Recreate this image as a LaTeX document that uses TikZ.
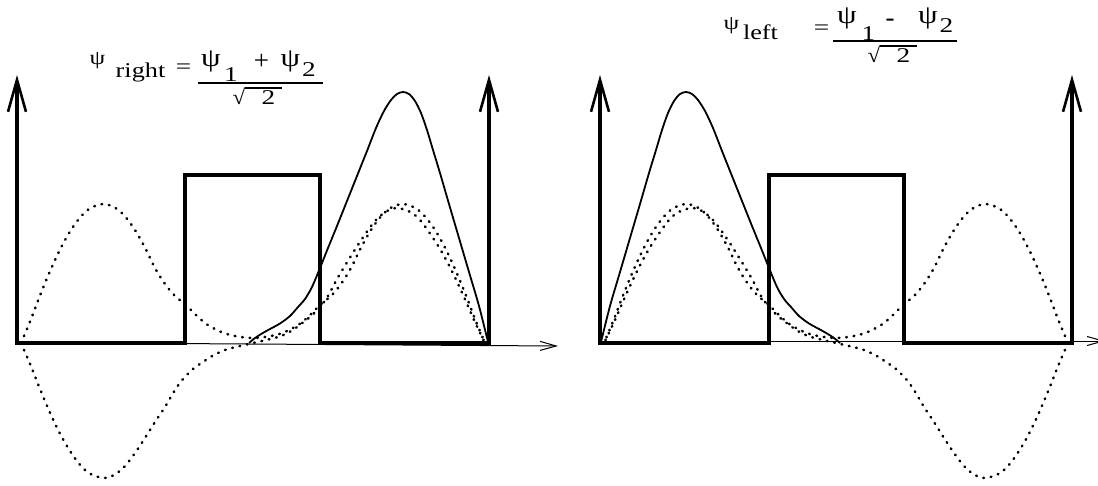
\documentclass[tikz,border=0pt]{standalone}
\usepackage{fontspec}
\usepackage{graphicx}
\setmainfont{Liberation Serif}
\usetikzlibrary{arrows.meta}
\newcommand\potpath{(17,75) -- (17,343) -- (185,343) -- (185,175) -- (320,175) -- (320,343) -- (489,343) -- (489,75)}
\newcommand\psiAcurve{plot[smooth,tension=0.55] coordinates {(21,343) (30,321.6) (40,295.5) (50,271.2) (60,249.6) (70,231.5) (80,217.6) (90,208.4) (103,204) (115,207.7) (125,216.4) (135,230) (145,247.6) (155,268) (165,284) (175,296) (185,304) (195,314) (205,323) (215,329) (225,333.5) (235,336) (245,337.5) (253,338) (261,337.5) (271,336) (281,333.5) (291,329) (301,323) (311,314) (321,304) (331,296) (341,284) (351,268) (361,247.6) (371,230) (381,216.4) (391,207.7) (403,204) (416,208.4) (426,217.6) (436,231.5) (446,249.6) (456,271.2) (466,295.5) (476,321.6) (485,343)}}
\newcommand\psiBcurve{plot[smooth,tension=0.55] coordinates {(21,343) (30,363.8) (40,389) (50,412.7) (60,433.7) (70,451) (80,464.8) (90,473.7) (104,478) (115,474.4) (125,466) (135,453) (145,438) (155,422) (165,407) (175,390) (183,379) (193,369) (203,362) (213,355.5) (225,350) (235,347.2) (245,344.8) (253,343) (261,341.2) (271,338.8) (281,336) (292,330.5) (301,324) (310,317) (320,307) (328,296) (337,279) (346,264) (356,248) (366,233) (376,220) (386,211.6) (397,208) (411,212.3) (421,221.2) (431,235) (442,252.3) (453,273.3) (464,297) (475,322.2) (485,343)}}
\newcommand\psiScurve{plot[smooth,tension=0.5] coordinates {(249,343) (255,338) (262,333.5) (270,329) (280,323.5) (290,316) (298,307) (305,299) (312,287) (320,268) (328,248) (337,226) (347,201) (357,176) (367,151) (376,128) (384,111) (391,100) (397,94) (403,92) (409,94) (415,101) (421,113) (427,130) (433,150) (440,173) (449,204) (459,238) (469,272) (479,306) (488,342)}}
\begin{document}
\begin{tikzpicture}[x=1pt,y=-1pt,
  pot/.style={line width=3.2pt, line join=miter,
    {Straight Barb[length=32pt,width=18pt,line width=2.6pt]}-{Straight Barb[length=32pt,width=18pt,line width=2.6pt]}},
  axisline/.style={line width=1pt, -{Straight Barb[length=16pt,width=9pt]}},
  dotcurve/.style={line width=2.6pt, line cap=round, dash pattern=on 0.7pt off 6.8pt},
  solidcurve/.style={line width=1.8pt, line join=round},
  txt/.style={inner sep=0pt, font=\fontsize{21}{21}\selectfont},
  psitxt/.style={inner sep=0pt, font=\fontsize{26}{26}\selectfont},
  smalltxt/.style={inner sep=0pt, font=\fontsize{20}{20}\selectfont},
  bigtxt/.style={inner sep=0pt, font=\fontsize{27}{27}\selectfont},
  fracbar/.style={line width=1.1pt}]
\useasboundingbox (0,0) rectangle (1098,485);
\clip (0,0) rectangle (1098,485);
% left panel
\draw[pot] \potpath;
\draw[axisline] (17,342.5) coordinate (axL0) -- (558,346) coordinate (axL1);
\draw[dotcurve] \psiAcurve;
\draw[dotcurve] \psiBcurve;
\draw[solidcurve] \psiScurve;
% right panel (mirror image)
\begin{scope}[xshift=1089pt, xscale=-1]
\draw[pot] \potpath;
\draw[dotcurve] \psiAcurve;
\draw[dotcurve] \psiBcurve;
\draw[solidcurve] \psiScurve;
\end{scope}
\draw[axisline] (600,341) coordinate (axR0) -- (1105,341) coordinate (axR1);
% left formula
\node[smalltxt] (psiR) at (97.5,60.5) {\scalebox{1.25}[1]{ψ}};
\node[txt, anchor=base] (right) at (140.5,77) {\scalebox{1.25}[1]{right}};
\node[txt] (eqR) at (183.5,68.5) {\scalebox{1.3}[1]{=}};
\draw[fracbar] (198,83) coordinate (fbR0) -- (323,83) coordinate (fbR1);
\node[psitxt] (nR1) at (211,61) {\scalebox{1.2}[1]{ψ}};
\node[txt] (oneR) at (231,75) {\scalebox{1.3}[1]{1}};
\node[bigtxt] (plus) at (261.5,62) {+};
\node[psitxt] (nR2) at (290.5,61) {\scalebox{1.2}[1]{ψ}};
\node[txt] (twoR) at (309,70) {\scalebox{1.3}[1]{2}};
\node[txt] (sqR) at (239,96.5) {\scalebox{1.1}[1]{√}};
\node[txt] (dR) at (268.5,97.5) {\scalebox{1.3}[1]{2}};
\draw[fracbar] (245,88) coordinate (sbR0) -- (282,88) coordinate (sbR1);
% right formula
\node[smalltxt] (psiL) at (731.5,26) {\scalebox{1.25}[1]{ψ}};
\node[txt, anchor=base] (left) at (760.5,39) {\scalebox{1.25}[1]{left}};
\node[txt] (eqL) at (821.5,29.5) {\scalebox{1.3}[1]{=}};
\draw[fracbar] (833,41) coordinate (fbL0) -- (957,41) coordinate (fbL1);
\node[psitxt] (nL1) at (847,18.5) {\scalebox{1.2}[1]{ψ}};
\node[txt] (oneL) at (868.5,34) {\scalebox{1.3}[1]{1}};
\node[bigtxt] (minus) at (890,23) {-};
\node[psitxt] (nL2) at (928,18.5) {\scalebox{1.2}[1]{ψ}};
\node[txt] (twoL) at (946.5,25.5) {\scalebox{1.3}[1]{2}};
\node[txt] (sqL) at (874,54.5) {\scalebox{1.1}[1]{√}};
\node[txt] (dL) at (903.5,55.5) {\scalebox{1.3}[1]{2}};
\draw[fracbar] (880,46) coordinate (sbL0) -- (917,46) coordinate (sbL1);
\end{tikzpicture}
\end{document}
